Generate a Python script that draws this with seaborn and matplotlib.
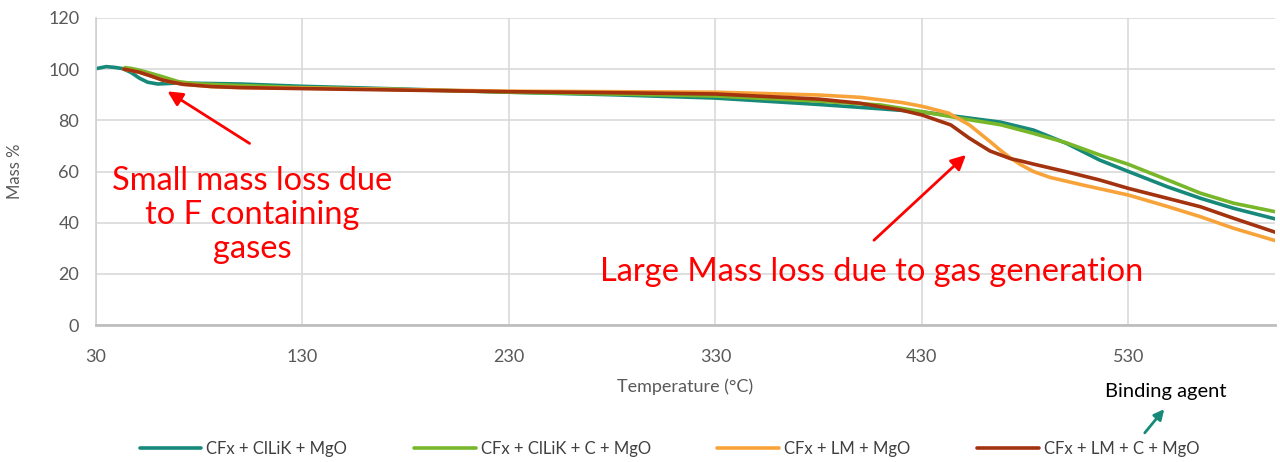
import matplotlib
matplotlib.use("Agg")
import matplotlib.pyplot as plt
import seaborn as sns
import pandas as pd

# ---- data ----
series_names = ["CFx + ClLiK + MgO", "CFx + ClLiK + C + MgO", "CFx + LM + MgO", "CFx + LM + C + MgO"]
colors = ["#17897A", "#78B72A", "#F8A33A", "#A3320E"]

t_teal = [30, 35, 39, 43, 47, 51, 55, 60, 70, 100, 130, 180, 230, 280, 330, 380, 410, 430, 450, 468, 484, 500, 516, 530, 549, 565, 581, 601]
m_teal = [100.2, 101, 100.7, 100.2, 98.7, 96.5, 94.9, 94.2, 94.6, 94.2, 93.3, 92.2, 91, 90, 88.7, 86.2, 84.5, 83.3, 81.2, 79.3, 76.2, 71, 64.5, 60, 54, 49.5, 45.6, 41.5]

t_green = [44, 47, 51, 56, 62, 66, 70, 78, 93, 130, 180, 230, 280, 330, 380, 410, 430, 450, 468, 484, 500, 516, 530, 549, 565, 581, 601]
m_green = [100.6, 100.3, 99.6, 98.5, 97.1, 96.1, 95.1, 94.3, 93.8, 92.8, 92, 91, 90.3, 89.5, 87.5, 86, 83.4, 80.6, 78.3, 74.9, 71.2, 66.5, 62.8, 56.7, 51.5, 47.6, 44.3]

t_orange = [43.5, 47, 51, 56, 62, 67, 72, 86, 100, 130, 180, 230, 280, 330, 380, 400, 410, 420, 430, 443, 453, 463, 468, 473, 478, 484, 492, 508, 530, 549, 565, 581, 601]
m_orange = [100, 99.5, 98.8, 97.5, 95.8, 94.9, 94.1, 93.2, 92.8, 92.6, 92, 91.4, 91.2, 91, 89.9, 89, 88, 87, 85.5, 82.8, 78.2, 71.7, 68.3, 65.2, 62.6, 60, 57.7, 54.7, 50.8, 46.3, 42.3, 37.8, 33]

t_red = [43.5, 47, 51, 56, 62, 67, 72, 86, 100, 130, 180, 230, 280, 330, 380, 400, 410, 420, 430, 444, 453, 463, 468, 473, 478, 484, 500, 516, 530, 549, 565, 581, 601]
m_red = [100, 99.5, 98.8, 97.5, 95.8, 94.9, 94.1, 93.2, 92.8, 92.4, 91.8, 91.2, 90.8, 90.3, 88.3, 86.7, 85.3, 84, 82.1, 78.2, 73, 68, 66.5, 65, 64.1, 62.9, 59.9, 56.7, 53.4, 49.5, 46.2, 41.7, 36.3]

x_ticks = [30, 130, 230, 330, 430, 530]
y_ticks = [0, 20, 40, 60, 80, 100, 120]

frames = []
for name, t, m in zip(series_names, [t_teal, t_green, t_orange, t_red], [m_teal, m_green, m_orange, m_red]):
    frames.append(pd.DataFrame({"Temperature": t, "Mass": m, "Series": name}))
df = pd.concat(frames, ignore_index=True)

sns.set_theme(style="white")
plt.rcParams["font.family"] = ["Lato", "DejaVu Sans"]

fig = plt.figure(figsize=(12.8, 4.62), dpi=100)
ax = fig.add_axes([96 / 1280, 1 - 325 / 462, (1275 - 96) / 1280, (325 - 18) / 462])

sns.lineplot(data=df, x="Temperature", y="Mass", hue="Series", palette=colors,
             hue_order=series_names, estimator=None, sort=False, linewidth=2.6, ax=ax, legend=True)
for line in ax.get_lines():
    line.set_solid_joinstyle("round")
    line.set_solid_capstyle("round")

ax.set_xlim(30, 601)
ax.set_ylim(0, 120)
ax.set_xticks(x_ticks)
ax.set_yticks(y_ticks)
ax.grid(True, color="#D9D9D9", linewidth=1.2)
ax.set_axisbelow(True)
for s in ["top", "right"]:
    ax.spines[s].set_visible(False)
ax.spines["left"].set_color("#D0D0D0")
ax.spines["left"].set_linewidth(1.2)
ax.spines["bottom"].set_color("#BFBFBF")
ax.spines["bottom"].set_linewidth(2)
ax.tick_params(axis="both", length=0, labelsize=13, labelcolor="#595959")
ax.tick_params(axis="x", pad=17)
ax.tick_params(axis="y", pad=12)
ax.set_xlabel("Temperature (°C)", fontsize=13, color="#595959", labelpad=10)
ax.set_ylabel("Mass %", fontsize=12, color="#595959", labelpad=18)

ax.legend(loc="center", bbox_to_anchor=(0.523, 0.028), bbox_transform=fig.transFigure,
          ncol=4, frameon=False, fontsize=12, handlelength=3.7, columnspacing=4.0,
          handletextpad=0.3, labelcolor="#404040")

# annotations
ax.annotate("", xy=(63.5, 91.9), xytext=(105.5, 70.4),
            arrowprops=dict(arrowstyle="-|>", color="#FF0000", lw=2, mutation_scale=22))
ax.text(105.5, 43, "Small mass loss due\nto F containing\ngases", color="#FF0000",
        fontsize=23.5, ha="center", va="center", linespacing=1.15)
ax.annotate("", xy=(452.3, 67.2), xytext=(405.8, 32.4),
            arrowprops=dict(arrowstyle="-|>", color="#FF0000", lw=2, mutation_scale=22))
ax.text(405.8, 20.7, "Large Mass loss due to gas generation", color="#FF0000",
        fontsize=23.5, ha="center", va="center")

fig.text(1166 / 1280, 1 - 392 / 462, "Binding agent", fontsize=14.5, color="black",
         ha="center", va="center")
fig.add_artist(matplotlib.patches.FancyArrowPatch(
    (1143 / 1280, 1 - 435 / 462), (1166 / 1280, 1 - 407 / 462), transform=fig.transFigure,
    arrowstyle="-|>", color="#17897A", lw=2, mutation_scale=15))

fig.savefig("out.png", dpi=100)
